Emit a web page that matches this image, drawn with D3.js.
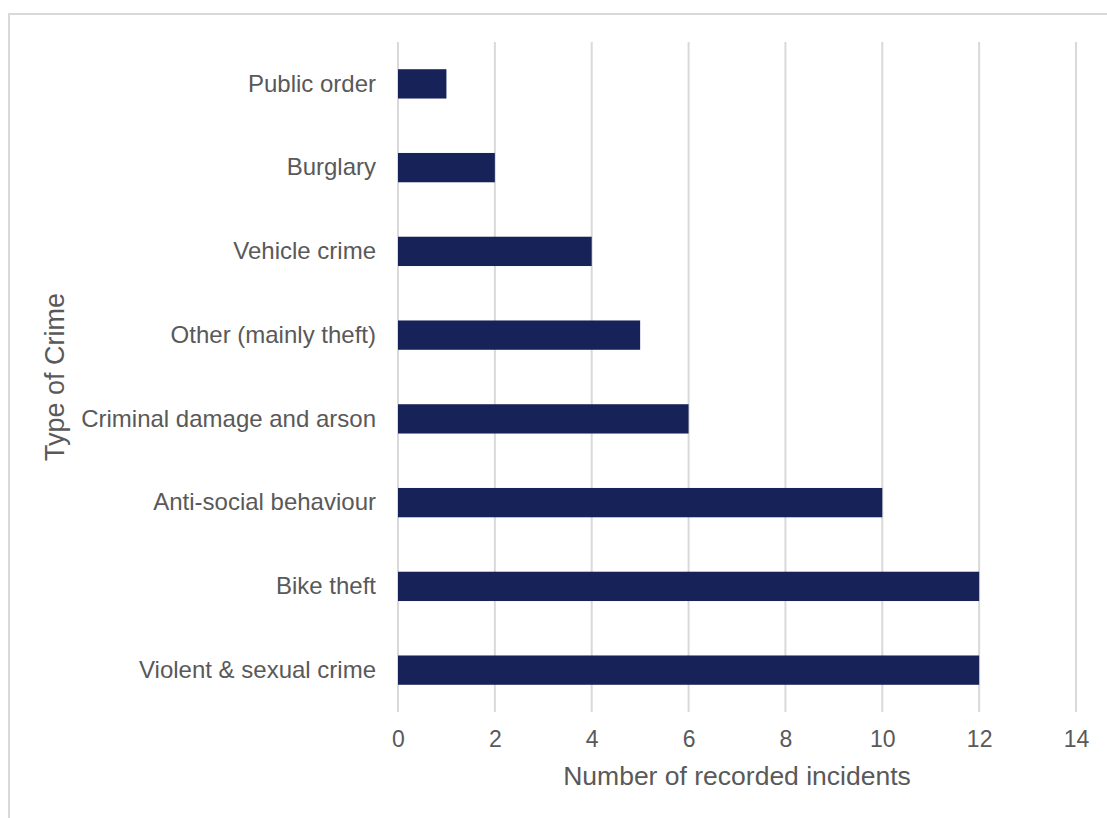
<!DOCTYPE html>
<html>
<head>
<meta charset="utf-8">
<script src="https://cdn.jsdelivr.net/npm/d3@7"></script>
<style>
  html, body { margin: 0; padding: 0; background: #fff; }
  svg { display: block; font-family: "Liberation Sans", Arial, sans-serif; }
</style>
</head>
<body>
<svg id="chart" width="1107" height="818"></svg>
<script>
// Recorded incidents by type of crime
const categories = [
  "Public order",
  "Burglary",
  "Vehicle crime",
  "Other (mainly theft)",
  "Criminal damage and arson",
  "Anti-social behaviour",
  "Bike theft",
  "Violent & sexual crime"
];
const incidents = [1, 2, 4, 5, 6, 10, 12, 12];
const xTicks = [0, 2, 4, 6, 8, 10, 12, 14];
const xTitle = "Number of recorded incidents";
const yTitle = "Type of Crime";

const svg = d3.select("#chart");
const plot = { left: 398, right: 1076, top: 42, bottom: 712 };

// Chart-area frame
svg.append("rect")
  .attr("x", 9).attr("y", 14)
  .attr("width", 1120).attr("height", 830)
  .attr("fill", "#fff")
  .attr("stroke", "#d9d9d9").attr("stroke-width", 2);

const x = d3.scaleLinear().domain([0, 14]).range([plot.left, plot.right]);
const y = d3.scaleBand().domain(categories)
  .range([plot.top, plot.bottom])
  .paddingInner(0.65).paddingOuter(0.325);

// Vertical gridlines
svg.append("g")
  .selectAll("line")
  .data(xTicks)
  .join("line")
  .attr("x1", d => x(d)).attr("x2", d => x(d))
  .attr("y1", plot.top).attr("y2", plot.bottom)
  .attr("stroke", "#d9d9d9").attr("stroke-width", 2);

// Bars
svg.append("g")
  .selectAll("rect")
  .data(categories.map((c, i) => ({ c, v: incidents[i] })))
  .join("rect")
  .attr("x", x(0))
  .attr("y", d => y(d.c))
  .attr("width", d => x(d.v) - x(0))
  .attr("height", y.bandwidth())
  .attr("fill", "#172358");

// X axis tick labels
const xAxis = svg.append("g")
  .attr("transform", `translate(0,${plot.bottom})`)
  .call(d3.axisBottom(x).tickValues(xTicks).tickSize(0).tickPadding(19).tickFormat(d3.format("d")));
xAxis.select(".domain").remove();
xAxis.selectAll("text")
  .attr("fill", "#595959").attr("font-size", 23)
  .attr("font-family", "Liberation Sans, Arial, sans-serif");

// Y axis category labels
const yAxis = svg.append("g")
  .attr("transform", `translate(${plot.left},0)`)
  .call(d3.axisLeft(y).tickSize(0).tickPadding(22));
yAxis.select(".domain").remove();
yAxis.selectAll("text")
  .attr("fill", "#595959").attr("font-size", 24)
  .attr("font-family", "Liberation Sans, Arial, sans-serif");

// Axis titles
svg.append("text")
  .attr("x", (plot.left + plot.right) / 2)
  .attr("y", 785)
  .attr("text-anchor", "middle")
  .attr("fill", "#595959").attr("font-size", 26.5)
  .text(xTitle);

svg.append("text")
  .attr("transform", `translate(64,377) rotate(-90)`)
  .attr("text-anchor", "middle")
  .attr("fill", "#595959").attr("font-size", 27)
  .text(yTitle);
</script>
</body>
</html>
